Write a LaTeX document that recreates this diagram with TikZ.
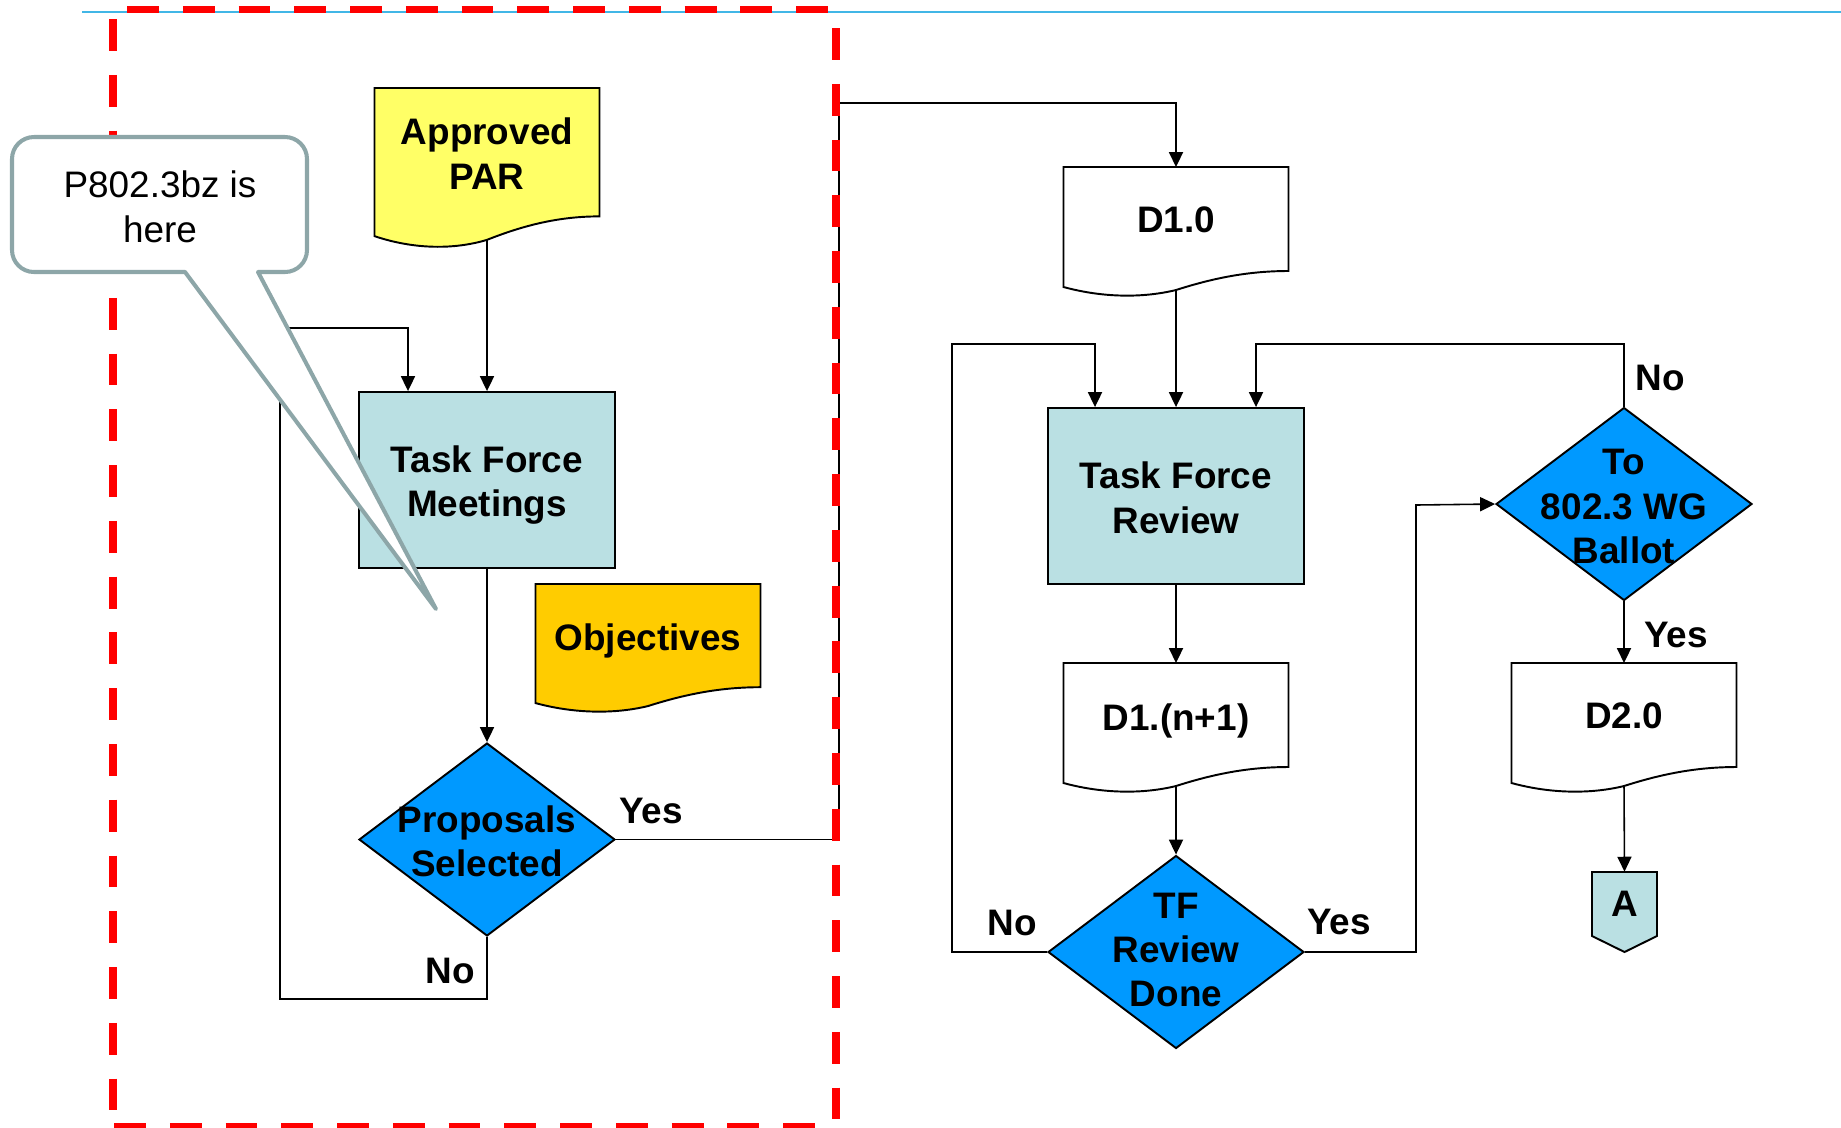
\documentclass[tikz,border=0pt]{standalone}
\usepackage{fontspec}
\setmainfont{Liberation Sans}
\usetikzlibrary{shapes.geometric,arrows.meta,calc}
\definecolor{boxblue}{HTML}{BAE0E3}
\definecolor{diablue}{HTML}{0099FF}
\definecolor{paryellow}{HTML}{FFFF66}
\definecolor{objgold}{HTML}{FFCC00}
\definecolor{calloutgray}{HTML}{8DA6A8}
\definecolor{rulecyan}{HTML}{41B6E6}
% document shape outline: centre x, top y, height to lowest point, fill
\newcommand\docoutline[4]{%
  \draw[line width=1.1pt, fill=#4] ({#1-112.5},#2) -- ({#1+112.5},#2) -- ({#1+112.5},{#2+0.8125*#3})
    .. controls ({#1+72.5},{#2+0.8125*#3}) and ({#1+37.5},{#2+0.867*#3}) .. (#1,{#2+0.961*#3})
    .. controls ({#1-32.5},{#2+1.023*#3}) and ({#1-72.5},{#2+1.023*#3}) .. ({#1-112.5},{#2+0.9375*#3}) -- cycle;}
\begin{document}
\begin{tikzpicture}[x=0.02cm,y=-0.02cm,
  lbl/.style={font=\fontsize{21}{25.3}\selectfont\bfseries, align=center, inner sep=0pt},
  procbox/.style={draw, line width=1.1pt, fill=boxblue, minimum width=5.12cm, minimum height=3.52cm, inner sep=0pt},
  decision/.style={diamond, draw, line width=1.1pt, fill=diablue, minimum width=5.12cm, minimum height=3.86cm, inner sep=0pt},
  docnode/.style={minimum width=4.5cm, inner sep=0pt, outer sep=0pt},
  conn/.style={line width=0.9pt},
  arr/.style={conn, -{Triangle[length=8.5pt,width=8pt]}},
  reddash/.style={draw=red, line width=4pt, dash pattern=on 18.14pt off 13.6pt},
]
\useasboundingbox (0,0) rectangle (1841,1127);

% top rule
\draw[rulecyan, line width=1.2pt] (82,12) -- (1841,12);

% ---------- left column ----------
\docoutline{487}{88}{158}{paryellow}
\node[docnode, minimum height=3.04cm, label={[lbl, yshift=0.21cm]center:{Approved\\PAR}}] (par) at (487,163.9) {};

\node[procbox, label={[lbl, yshift=-0.1cm]center:{Task Force\\Meetings}}] (tfm) at (487,480) {};

\docoutline{648}{584}{127}{objgold}
\node[docnode, minimum height=2.44cm, label={[lbl, yshift=0.08cm]center:{Objectives}}] (obj) at (648,645) {};

\node[decision] (ps) at (487,839.5) {};
\node[lbl] (pstext) at (487,841.5) {Proposals\\Selected};

% ---------- right part ----------
\docoutline{1176}{167}{128}{white}
\node[docnode, minimum height=2.46cm, label={[lbl, yshift=0.17cm]center:{D1.0}}] (d10) at (1176,228.5) {};

\node[procbox, label={[lbl, yshift=-0.04cm]center:{Task Force\\Review}}] (tfr) at (1176,496) {};

\docoutline{1176}{663}{128}{white}
\node[docnode, minimum height=2.46cm, label={[lbl, yshift=0.07cm]center:{D1.(n+1)}}] (d1n) at (1176,724.5) {};

\node[decision] (tfrd) at (1176,952) {};
\node[lbl] (tfrdtext) at (1176,950) {TF\\Review\\Done};

\node[decision] (ballot) at (1624,504) {};
\node[lbl] (ballottext) at (1624,506.5) {To\\802.3 WG\\Ballot};

\docoutline{1624}{663}{128}{white}
\node[docnode, minimum height=2.46cm, label={[lbl, yshift=0.17cm]center:{D2.0}}] (d20) at (1624,724.5) {};

\draw[line width=1.1pt, fill=boxblue] (1592,872) -- (1657,872) -- (1657,936) -- (1624.5,952) -- (1592,936) -- cycle;
\node[lbl, minimum width=1.3cm, minimum height=1.28cm] (A) at (1624.5,904) {A};

% ---------- connectors ----------
\coordinate (psLoopBL) at (280,999);
\coordinate (psLoopTR) at (408,328);
\coordinate (yesTurn) at (839,103);
\coordinate (noTL) at (952,344);
\coordinate (tfrInL) at (1095,344);
\coordinate (yesR) at (1416,505);
\coordinate (noBR) at (1256,344);

\draw[arr] (par.south) -- (tfm.north);
\draw[arr] (tfm.south) -- (ps.north);
\draw[arr] (ps.south) |- (psLoopBL) |- (psLoopTR) -- (tfm.north -| psLoopTR);
\draw[arr] (ps.east) -| (yesTurn) -| (d10.north);
\draw[arr] (d10.south) -- (tfr.north);
\draw[arr] (tfr.south) -- (d1n.north);
\draw[arr] (d1n.south) -- (tfrd.north);
\draw[arr] (tfrd.west) -| (noTL) -- (tfrInL) -- (tfr.north -| tfrInL);
\draw[arr] (tfrd.east) -| (yesR) -- (ballot.west);
\draw[arr] (ballot.north) |- (noBR) -- (tfr.north -| noBR);
\draw[arr] (ballot.south) -- (d20.north);
\draw[arr] (d20.south) -- (A.north);

% connector labels
\node[lbl, anchor=east] (noPS) at (475,971) {No};
\node[lbl] (yesPS) at (651,811) {Yes};
\node[lbl] (noTF) at (1012,923) {No};
\node[lbl] (yesTF) at (1339,922) {Yes};
\node[lbl] (noBal) at (1660,378) {No};
\node[lbl] (yesBal) at (1676,635) {Yes};

% ---------- red dashed frame ----------
\draw[reddash] (127,9.5) -- (831,9.5);
\draw[reddash] (113,19) -- (113,1127);
\draw[reddash] (836,28) -- (836,1127);
\draw[reddash] (114,1126) -- (836,1126);

% ---------- callout ----------
\path[draw=calloutgray, fill=white, line width=2.3pt, line join=round]
  (185,272) -- (436,609) -- (258,272) -- (285,272)
  .. controls (297.15,272) and (307,262.15) .. (307,250) -- (307,159)
  .. controls (307,146.85) and (297.15,137) .. (285,137) -- (34,137)
  .. controls (21.85,137) and (12,146.85) .. (12,159) -- (12,250)
  .. controls (12,262.15) and (21.85,272) .. (34,272) -- cycle;
\node[font=\fontsize{21}{25.3}\selectfont, align=center, inner sep=0pt] (callout) at (160,207) {P802.3bz is\\here};
\end{tikzpicture}
\end{document}
